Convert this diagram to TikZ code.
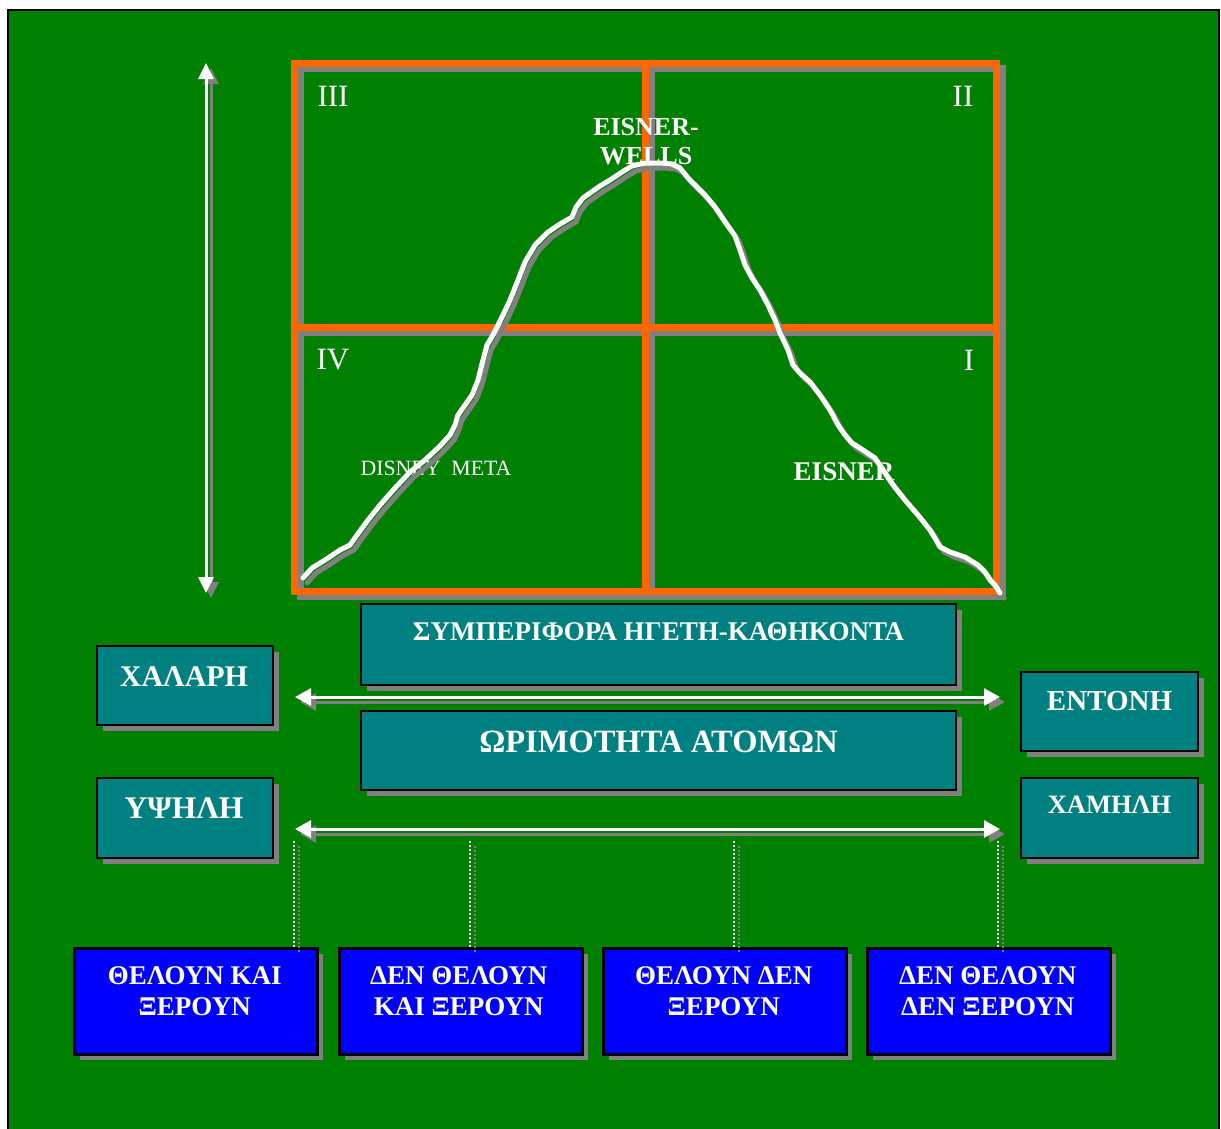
\documentclass[tikz,border=0pt]{standalone}
\usepackage{fontspec}
\setmainfont{Liberation Serif}
\usetikzlibrary{arrows.meta,shadows}
\definecolor{bg}{RGB}{0,128,0}
\definecolor{og}{RGB}{255,102,0}
\definecolor{tl}{RGB}{0,128,128}
\definecolor{bl}{RGB}{0,0,255}
\definecolor{sh}{RGB}{128,128,128}
\newcommand{\fsz}[1]{\fontsize{#1}{1.12\dimexpr#1pt\relax}\selectfont}
\tikzset{
  boxshadow/.style={drop shadow={shadow xshift=6pt, shadow yshift=-6pt, fill=sh, opacity=1}},
  tealbox/.style={draw=black, line width=2pt, fill=tl, anchor=north west, inner sep=0pt, boxshadow},
  bluebox/.style={draw=black, line width=2.5pt, fill=bl, anchor=north west, inner sep=0pt, minimum width=243pt, minimum height=106pt, boxshadow},
  boxtext/.style={text=white, font=\bfseries, inner sep=0pt, align=center},
  quadlabel/.style={text=white, font=\fsz{31}, inner sep=0pt},
  gridline/.style={line width=7pt},
  arrowline/.style={line width=3pt, {Triangle[length=16pt,width=17pt]}-{Triangle[length=16pt,width=17pt]}},
  dotline/.style={line width=2pt, dash pattern=on 2pt off 2pt},
}
\begin{document}
\begin{tikzpicture}[x=1pt,y=-1pt]
\useasboundingbox (0,0) rectangle (1221,1128);
\fill[white] (0,0) rectangle (1221,1128);
\draw[fill=bg, line width=2pt] (8,10) rectangle (1219,1140);

% quadrant grid with shadow
\draw[gridline, sh, shift={(6,5)}] (294,63) rectangle (996,591) (645.5,63) -- (645.5,591) (294,327) -- (996,327);
\draw[gridline, og] (294,63) rectangle (996,591) (645.5,63) -- (645.5,591) (294,327) -- (996,327);

% quadrant labels
\node[quadlabel] (q3) at (333,96) {III};
\node[quadlabel] (q2) at (963,96) {II};
\node[quadlabel] (q4) at (333,360) {IV};
\node[quadlabel] (q1) at (969,360) {I};

\node[boxtext, font=\bfseries\fsz{26}, align=center] (ew) at (646,142) {EISNER-\\WELLS};
\node[text=white, inner sep=0pt, font=\fsz{21.8}] (dm) at (436,468) {DISNEY\ \ META};
\node[boxtext, font=\bfseries\fsz{27}] (ei) at (844,472) {EISNER};

% curve
\foreach \dx/\dy/\c in {4/5/sh, 0/0/white}{
\draw[color=\c, line width=5pt, line join=round, line cap=round, shift={(\dx,\dy)}]
 (303,578) -- (312,568) -- (325,560) -- (340,550) -- (350,545) -- (357,535) -- (368,520) -- (380,505)
 -- (395,488) -- (410,472) -- (425,460) -- (440,446) -- (450,435) -- (455,425) -- (458,415) -- (465,405)
 -- (472,395) -- (478,380) -- (483,360) -- (487,345) -- (493,335) -- (503,315) -- (510,300) -- (518,280)
 -- (525,262) -- (535,245) -- (548,232) -- (560,224) -- (572,217) -- (576,207) -- (583,198) -- (590,193)
 -- (600,186) -- (610,180) -- (622,172) -- (632,166) -- (645,163) -- (660,163) -- (672,164) -- (680,168)
 -- (688,178) -- (695,185) -- (705,195) -- (715,207) -- (725,222) -- (735,236) -- (740,250) -- (745,265)
 -- (752,278) -- (760,290) -- (768,305) -- (775,320) -- (780,333) -- (788,350) -- (793,365) -- (800,373)
 -- (810,382) -- (820,395) -- (830,410) -- (838,425) -- (845,435) -- (852,443) -- (863,450) -- (875,458)
 -- (883,470) -- (893,485) -- (905,500) -- (918,515) -- (930,530) -- (936,540) -- (940,547) -- (950,552)
 -- (965,557) -- (978,565) -- (985,572) -- (990,580) -- (995,585) -- (1000,593);
}

% vertical double arrow
\coordinate (vt) at (206,63);
\coordinate (vb) at (206,593);
\draw[arrowline, sh, transform canvas={shift={(5pt,-5pt)}}, {Triangle[length=16pt,width=15pt]}-{Triangle[length=16pt,width=15pt]}] (vt) -- (vb);
\draw[arrowline, white, {Triangle[length=16pt,width=15pt]}-{Triangle[length=16pt,width=15pt]}] (vt) -- (vb);

% teal boxes
\node[tealbox, minimum width=595pt, minimum height=81pt] (beh) at (360,603) {};
\node[tealbox, minimum width=176pt, minimum height=79pt] (hal) at (96,645) {};
\node[tealbox, minimum width=177pt, minimum height=79pt] (ent) at (1020,671) {};
\node[tealbox, minimum width=595pt, minimum height=79pt] (wri) at (360,710) {};
\node[tealbox, minimum width=176pt, minimum height=80pt] (ups) at (96,777) {};
\node[tealbox, minimum width=177pt, minimum height=80pt] (xam) at (1020,777) {};

\node[boxtext, font=\bfseries\fsz{27}] (behT) at ([yshift=12.5pt]beh.center) {ΣΥΜΠΕΡΙΦΟΡΑ ΗΓΕΤΗ-ΚΑΘΗΚΟΝΤΑ};
\node[boxtext, font=\bfseries\fsz{30}] (halT) at ([yshift=8.5pt,xshift=-1pt]hal.center) {ΧΑΛΑΡΗ};
\node[boxtext, font=\bfseries\fsz{29}] (entT) at ([yshift=10pt]ent.center) {ΕΝΤΟΝΗ};
\node[boxtext, font=\bfseries\fsz{32.5}] (wriT) at ([yshift=8.5pt]wri.center) {ΩΡΙΜΟΤΗΤΑ ΑΤΟΜΩΝ};
\node[boxtext, font=\bfseries\fsz{31.5}] (upsT) at ([yshift=10pt,xshift=-1pt]ups.center) {ΥΨΗΛΗ};
\node[boxtext, font=\bfseries\fsz{26.5}] (xamT) at ([yshift=13pt]xam.center) {ΧΑΜΗΛΗ};

% horizontal double arrows
\coordinate (a1l) at (295,697);
\coordinate (a1r) at (1000,697);
\coordinate (a2l) at (295,829);
\coordinate (a2r) at (1000,829);
\draw[arrowline, sh, transform canvas={shift={(5pt,-5pt)}}] (a1l) -- (a1r);
\draw[arrowline, white] (a1l) -- (a1r);
\draw[arrowline, sh, transform canvas={shift={(5pt,-5pt)}}] (a2l) -- (a2r);
\draw[arrowline, white] (a2l) -- (a2r);

% blue boxes
\node[bluebox] (b1) at (73,947) {};
\node[bluebox] (b2) at (338,947) {};
\node[bluebox] (b3) at (602,947) {};
\node[bluebox] (b4) at (866,947) {};
\node[boxtext, font=\bfseries\fsz{27}] (b1T) at ([yshift=10pt,xshift=-1pt]b1.center) {ΘΕΛΟΥΝ ΚΑΙ\\ΞΕΡΟΥΝ};
\node[boxtext, font=\bfseries\fsz{27}] (b2T) at ([yshift=10pt,xshift=-2pt]b2.center) {ΔΕΝ ΘΕΛΟΥΝ\\ΚΑΙ ΞΕΡΟΥΝ};
\node[boxtext, font=\bfseries\fsz{27}] (b3T) at ([yshift=10pt,xshift=-1pt]b3.center) {ΘΕΛΟΥΝ ΔΕΝ\\ΞΕΡΟΥΝ};
\node[boxtext, font=\bfseries\fsz{27}] (b4T) at ([yshift=10pt,xshift=-1pt]b4.center) {ΔΕΝ ΘΕΛΟΥΝ\\ΔΕΝ ΞΕΡΟΥΝ};

% dotted drop lines
\coordinate (d1) at (294,841);
\coordinate (d2) at (470,841);
\coordinate (d3) at (734,841);
\coordinate (d4) at (998,841);
\foreach \d/\b in {d1/b1, d2/b2, d3/b3, d4/b4}{
  \draw[dotline, sh, transform canvas={shift={(5pt,-5pt)}}] (\d) -- (\d |- \b.north);
  \draw[dotline, white] (\d) -- (\d |- \b.north);
}
\end{tikzpicture}
\end{document}
